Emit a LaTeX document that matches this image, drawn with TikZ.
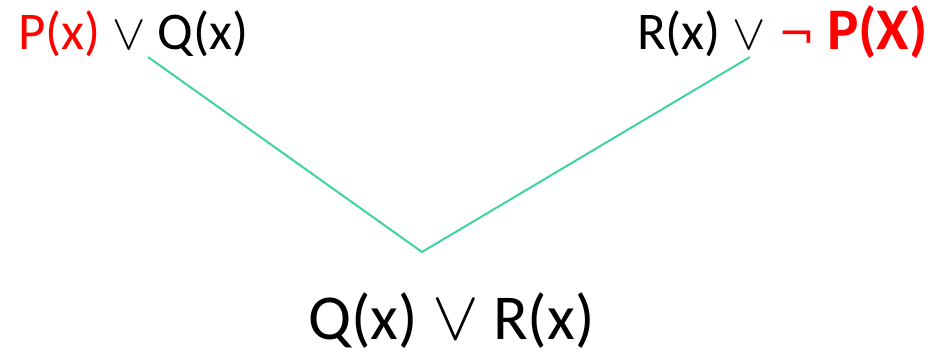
\documentclass[tikz,border=0pt]{standalone}
\usepackage{fontspec}
\setmainfont{Carlito}
\newfontfamily\symfont{DejaVu Sans}
\usepackage{xcolor}
\usepackage{graphicx}
\usetikzlibrary{positioning}
\definecolor{edge}{HTML}{3FD3A2}
\definecolor{hot}{HTML}{FF0000}
\newcommand{\orsym}[1]{\scalebox{#1}{\fontsize{10}{10}\selectfont$\vee$}}
\newcommand{\notsym}[1]{{\symfont\fontsize{#1}{#1}\selectfont ¬}}

\begin{document}
\begin{tikzpicture}[x=1pt, y=-1pt, line width=2pt,
    clause/.style={inner sep=0pt, anchor=base west, font=\fontsize{53}{58}\selectfont},
    result/.style={inner sep=0pt, anchor=base west, font=\fontsize{64}{68}\selectfont}]
    \useasboundingbox (0,0) rectangle (934,355);
    \node[clause] (left) at (17,50) {\textcolor{hot}{P(x)} \orsym{5} Q(x)};
    \node[clause] (right) at (636,50) {R(x) \orsym{5} {\color{hot}\notsym{44} {\fontsize{59}{62}\selectfont\bfseries P(X)}}};
    \node[result] (res) at (307,339) {Q(x) \orsym{7} R(x)};
    \coordinate (l) at (148,57);
    \coordinate (m) at (422,252);
    \coordinate (r) at (750,57);
    \draw[edge] (l) -- (m) -- (r);
\end{tikzpicture}
\end{document}
